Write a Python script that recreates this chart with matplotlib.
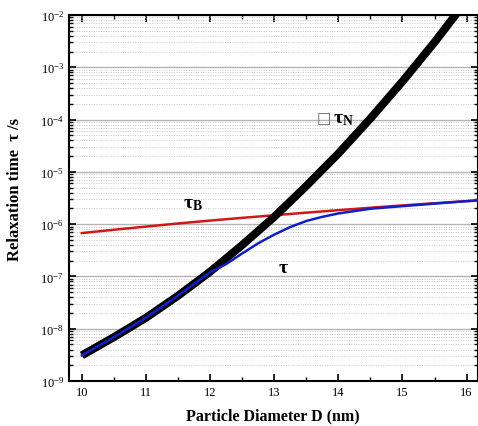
import matplotlib
matplotlib.use("Agg")
import matplotlib.pyplot as plt
from matplotlib.ticker import LogLocator, NullFormatter, MultipleLocator

plt.rcParams['font.family'] = ['Liberation Serif', 'DejaVu Sans']
plt.rcParams['mathtext.fontset'] = 'custom'
plt.rcParams['mathtext.rm'] = 'Liberation Serif'
plt.rcParams['mathtext.it'] = 'Liberation Serif:italic'
plt.rcParams['mathtext.bf'] = 'Liberation Serif:bold'
plt.rcParams['axes.unicode_minus'] = False

# particle diameter (nm) and relaxation times (s)
d_neel = [10.0, 10.5, 11.0, 11.5, 12.0, 12.5, 13.0, 13.5, 14.0, 14.5, 15.0, 15.5, 16.0, 16.5]
tau_neel = [3.09e-9, 6.9e-9, 1.62e-8, 4.27e-8, 1.23e-7, 3.98e-7, 1.38e-6, 5.37e-6,
            2.24e-5, 1.05e-4, 5.37e-4, 3.02e-3, 1.9e-2, 1.3e-1]

d_brown = [10.0, 10.5, 11.0, 11.5, 12.0, 12.5, 13.0, 13.5, 14.0, 14.5, 15.0, 15.5, 16.0, 16.5]
tau_brown = [6.75e-7, 7.81e-7, 8.98e-7, 1.03e-6, 1.17e-6, 1.32e-6, 1.48e-6, 1.66e-6,
             1.85e-6, 2.06e-6, 2.28e-6, 2.51e-6, 2.76e-6, 3.03e-6]

d_eff = [10.0, 10.5, 11.0, 11.5, 12.0, 12.25, 12.5, 12.75, 13.0, 13.25, 13.5, 13.75,
         14.0, 14.5, 15.0, 15.5, 16.0, 16.5]
tau_eff = [3.09e-9, 6.9e-9, 1.62e-8, 4.27e-8, 1.2e-7, 1.72e-7, 2.75e-7, 4.31e-7,
           6.31e-7, 8.81e-7, 1.15e-6, 1.38e-6, 1.60e-6, 1.97e-6, 2.21e-6, 2.47e-6,
           2.75e-6, 3.02e-6]


def main():
    fig = plt.figure(figsize=(4.78, 4.27), dpi=100)
    ax = fig.add_axes([0.1444, 0.1054, 0.8546, 0.8571])

    ax.plot(d_brown, tau_brown, color="#d01818", lw=1.8, zorder=3)
    ax.plot(d_neel, tau_neel, color="black", lw=5.8, solid_capstyle="butt", zorder=4)
    ax.plot(d_eff, tau_eff, color="#1020c8", lw=1.8, zorder=5)

    ax.set_yscale("log")
    ax.set_xlim(9.8, 16.17)
    ax.set_ylim(1e-9, 1e-2)

    ax.xaxis.set_major_locator(MultipleLocator(1))
    ax.xaxis.set_minor_locator(MultipleLocator(0.5))
    ax.yaxis.set_major_locator(LogLocator(base=10, numticks=20))
    ax.yaxis.set_minor_locator(LogLocator(base=10, subs=range(2, 10), numticks=20))
    ax.yaxis.set_minor_formatter(NullFormatter())

    ax.grid(True, which="major", axis="y", color="#b4b4b4", lw=1.0, ls="-")
    ax.grid(True, which="minor", axis="y", color="#c8c8c8", lw=0.7, ls=(0, (1, 1.5)))
    ax.set_axisbelow(True)

    ax.tick_params(which="both", direction="in", top=True, right=True, labelsize=9)
    ax.tick_params(which="major", length=5, width=1.2)
    ax.tick_params(which="minor", length=3, width=1.0)
    for s in ax.spines.values():
        s.set_linewidth(1.5)

    ax.set_xlabel("Particle Diameter D (nm)", fontsize=11.5, fontweight="bold", labelpad=7)
    ax.set_ylabel("Relaxation time  \u03c4 /s", fontsize=12, fontweight="bold")
    ax.yaxis.set_label_coords(-0.112, 0.525)

    ax.text(11.57, 10**-5.67, r"$\mathbf{\tau_B}$", fontsize=14, ha="left", va="baseline")
    ax.text(13.06, 10**-6.92, r"$\mathbf{\tau}$", fontsize=14, ha="left", va="baseline")
    ax.text(13.665, 10**-4.05, "\u25a1", fontsize=11, ha="left", va="baseline",
            family=["DejaVu Sans"], color="#666666")
    ax.text(13.91, 10**-4.05, r"$\mathbf{\tau_N}$", fontsize=14, ha="left", va="baseline")

    fig.savefig("out.png", dpi=100)


if __name__ == "__main__":
    main()
